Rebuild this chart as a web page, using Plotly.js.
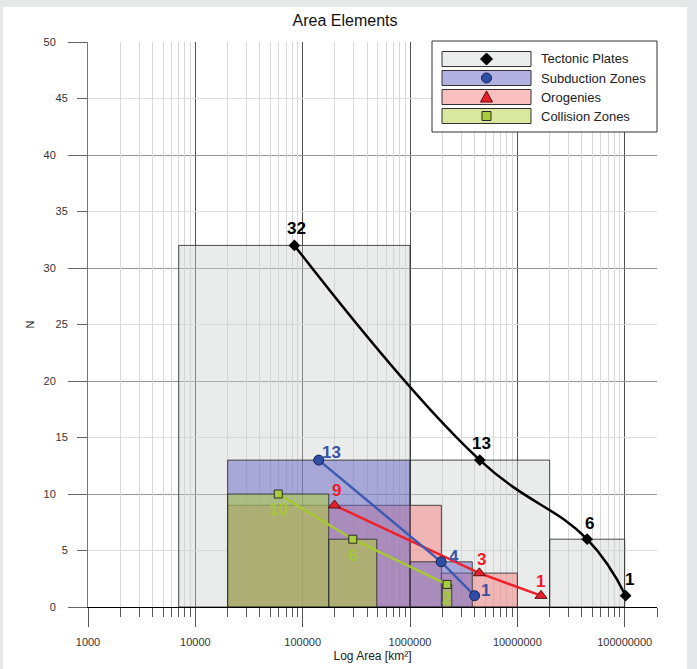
<!DOCTYPE html>
<html>
<head>
<meta charset="utf-8">
<script src="https://cdn.plot.ly/plotly-3.0.1.min.js"></script>
<style>
  html, body { margin: 0; padding: 0; background: #e6e7e9; width: 697px; height: 669px; overflow: hidden; }
  #chart { position: absolute; left: 3px; top: 7px; width: 684px; height: 662px; background: #fff; }
</style>
</head>
<body>
<div id="chart"></div>
<script>
// ---------------- DATA ----------------
var seriesNames = ['Tectonic Plates', 'Subduction Zones', 'Orogenies', 'Collision Zones'];

// Tectonic Plates
var tectonicBarLo = [7000, 1000000, 20000000];
var tectonicBarHi = [1000000, 20000000, 100000000];
var tectonicBarN  = [32, 13, 6];
var tectonicPtX   = [83700, 4470000, 44700000, 102000000];
var tectonicPtN   = [32, 13, 6, 1];

// Subduction Zones
var subductionBarLo = [20000, 1000000];
var subductionBarHi = [1000000, 3800000];
var subductionBarN  = [13, 4];
var subductionPtX   = [141000, 1950000, 4000000];
var subductionPtN   = [13, 4, 1];

// Orogenies
var orogenyBarLo = [20000, 1960000];
var orogenyBarHi = [1960000, 10000000];
var orogenyBarN  = [9, 3];
var orogenyPtX   = [198000, 4430000, 16600000];
var orogenyPtN   = [9, 3, 1];

// Collision Zones
var collisionBarLo = [20000, 175000, 2000000];
var collisionBarHi = [175000, 490000, 2450000];
var collisionBarN  = [10, 6, 2];
var collisionPtX   = [59200, 293000, 2210000];
var collisionPtN   = [10, 6, 2];

// Axis ticks
var xTickVals  = [1000, 10000, 100000, 1000000, 10000000, 100000000];
var xTickText  = ['1000', '10000', '100000', '1000000', '10000000', '100000000'];
var yMajorVals = [0, 10, 20, 30, 40, 50];
var yMajorText = ['0', '10', '20', '30', '40', '50'];
var yMinorVals = [5, 15, 25, 35, 45];
var yMinorText = ['5', '15', '25', '35', '45'];

// ---------------- BUILD ----------------
var FONT = 'Liberation Sans, Arial, sans-serif';

function barPolys(lo, hi, n) {
  var xs = [], ys = [];
  for (var i = 0; i < lo.length; i++) {
    xs.push(lo[i], lo[i], hi[i], hi[i], lo[i], null);
    ys.push(0, n[i], n[i], 0, 0, null);
  }
  return {x: xs, y: ys};
}

var edge = {color: 'rgba(45,45,45,0.85)', width: 1};
var fills = {
  tect: 'rgba(205,210,210,0.42)',
  sub:  'rgba(101,99,195,0.5)',
  oro:  'rgba(245,127,127,0.5)',
  col:  'rgba(175,210,45,0.5)'
};

function barTrace(lo, hi, n, fc) {
  var p = barPolys(lo, hi, n);
  return {type: 'scatter', mode: 'lines', x: p.x, y: p.y, fill: 'toself', fillcolor: fc,
          line: edge, hoverinfo: 'skip', showlegend: false};
}

var traces = [
  barTrace(tectonicBarLo, tectonicBarHi, tectonicBarN, fills.tect),
  barTrace(orogenyBarLo, orogenyBarHi, orogenyBarN, fills.oro),
  barTrace(subductionBarLo, subductionBarHi, subductionBarN, fills.sub),
  barTrace(collisionBarLo, collisionBarHi, collisionBarN, fills.col),
  {type: 'scatter', mode: 'lines+markers', x: tectonicPtX, y: tectonicPtN,
   line: {color: '#000', width: 2.5, shape: 'spline', smoothing: 1.2},
   marker: {symbol: 'diamond', size: 9, color: '#000'}, showlegend: false, hoverinfo: 'skip'},
  {type: 'scatter', mode: 'lines+markers', x: orogenyPtX, y: orogenyPtN,
   line: {color: '#f0202a', width: 2.5},
   marker: {symbol: 'triangle-up', size: 10.5, color: '#e8202a', line: {color: '#5a0a0a', width: 1}},
   showlegend: false, hoverinfo: 'skip'},
  {type: 'scatter', mode: 'lines+markers', x: subductionPtX, y: subductionPtN,
   line: {color: '#3d5bb0', width: 2.5},
   marker: {symbol: 'circle', size: 10, color: '#2e4ea6', line: {color: '#142050', width: 1}},
   showlegend: false, hoverinfo: 'skip'},
  {type: 'scatter', mode: 'lines+markers', x: collisionPtX, y: collisionPtN,
   line: {color: '#a6c832', width: 2.5},
   marker: {symbol: 'square', size: 8, color: '#a8cc3c', line: {color: '#2a2a2a', width: 1}},
   showlegend: false, hoverinfo: 'skip'},
  // dummy trace so the overlay (minor) axes are drawn
  {type: 'scatter', mode: 'markers', x: [10000], y: [0], xaxis: 'x2', yaxis: 'y2',
   marker: {opacity: 0}, showlegend: false, hoverinfo: 'skip'}
];

// minor x tick positions
var xMinor = [];
for (var d = 3; d <= 7; d++) {
  for (var m = 2; m <= 9; m++) xMinor.push(m * Math.pow(10, d));
}
xMinor.push(2e8);

// data labels
var annotations = [];
function addLabels(xs, ns, color, dx, dy) {
  for (var i = 0; i < xs.length; i++) {
    annotations.push({x: Math.log10(xs[i]), y: ns[i], xref: 'x', yref: 'y', text: String(ns[i]),
      showarrow: false, xshift: dx[i], yshift: dy[i],
      font: {family: FONT, size: 17, color: color, weight: 'bold'}});
  }
}
addLabels(tectonicPtX, tectonicPtN, '#000', [2, 2, 2, 4], [17, 17, 16, 16]);
addLabels(subductionPtX, subductionPtN, '#3c50a4', [13, 13, 11], [8, 5, 5]);
addLabels(orogenyPtX, orogenyPtN, '#ec1c28', [2, 2, 0], [15, 14, 14]);
addLabels(collisionPtX, collisionPtN, '#a4c83a', [0, 0, 0], [-15, -16, -14]);

// legend (manual), positions in plot-area fractions
function fx(px) { return (px - 88) / 569; }
function fy(py) { return (607 - py) / 565; }
var shapes = [];
shapes.push({type: 'rect', xref: 'paper', yref: 'paper', x0: fx(432), x1: fx(657), y0: fy(41), y1: fy(132),
  fillcolor: '#fff', line: {color: '#333', width: 1}, layer: 'above'});
var swatchFill = ['rgb(235,237,237)', 'rgb(178,177,225)', 'rgb(250,191,191)', 'rgb(216,232,158)'];
var rowY = [59, 78, 97, 116];
var markerPaths = [
  {type: 'path', path: 'M0,6L6,0L0,-6L-6,0Z', fill: '#000', line: '#000'},
  {type: 'circle', fill: '#2e4ea6', line: '#142050'},
  {type: 'path', path: 'M-6,-5L6,-5L0,6Z', fill: '#e8202a', line: '#5a0a0a'},
  {type: 'path', path: 'M-4.5,-4.5L4.5,-4.5L4.5,4.5L-4.5,4.5Z', fill: '#a8cc3c', line: '#2a2a2a'}
];
for (var r = 0; r < 4; r++) {
  shapes.push({type: 'rect', xref: 'paper', yref: 'paper', x0: fx(442), x1: fx(531),
    y0: fy(rowY[r] + 7.5), y1: fy(rowY[r] - 7.5), fillcolor: swatchFill[r],
    line: {color: '#333', width: 1}, layer: 'above'});
  var mp = markerPaths[r];
  var s = {type: mp.type, xref: 'paper', yref: 'paper', xsizemode: 'pixel', ysizemode: 'pixel',
    xanchor: fx(486.5), yanchor: fy(rowY[r]), fillcolor: mp.fill, line: {color: mp.line, width: 1}, layer: 'above'};
  if (mp.type === 'circle') { s.x0 = -5; s.x1 = 5; s.y0 = -5; s.y1 = 5; } else { s.path = mp.path; }
  shapes.push(s);
  annotations.push({xref: 'paper', yref: 'paper', x: fx(539), y: fy(rowY[r]), xanchor: 'left', yanchor: 'middle',
    text: seriesNames[r], showarrow: false, font: {family: FONT, size: 13, color: '#222'}});
}

var tickFont = {family: FONT, size: 11, color: '#333'};
var xRange = [3, Math.log10(2e8)];

var layout = {
  width: 684, height: 662,
  margin: {l: 85, r: 30, t: 35, b: 62},
  paper_bgcolor: '#fff', plot_bgcolor: '#fff',
  font: {family: FONT, color: '#222'},
  hovermode: false,
  showlegend: false,
  title: {text: 'Area Elements', font: {family: FONT, size: 16, color: '#111'},
          x: 0.5, xref: 'container', y: 0.98, yref: 'container', yanchor: 'middle'},
  xaxis: {type: 'log', range: xRange, tickmode: 'array', tickvals: xTickVals, ticktext: xTickText,
          ticks: 'outside', ticklen: 19, tickwidth: 1, tickcolor: '#555',
          showgrid: true, gridcolor: '#505050', gridwidth: 1, zeroline: false,
          showline: true, linecolor: '#000', linewidth: 1,
          tickfont: tickFont, ticklabelstandoff: 6,
          title: {text: 'Log Area [km²]', font: {family: FONT, size: 12, color: '#222'}, standoff: 4}},
  xaxis2: {type: 'log', range: xRange, overlaying: 'x', side: 'bottom', anchor: 'y',
           tickmode: 'array', tickvals: xMinor, showticklabels: false,
           ticks: 'outside', ticklen: 9, tickwidth: 1, tickcolor: '#555',
           showgrid: true, gridcolor: '#d8d8d8', gridwidth: 1, zeroline: false, showline: false},
  yaxis: {range: [0, 50], tickmode: 'array', tickvals: yMajorVals, ticktext: yMajorText,
          ticks: 'outside', ticklen: 19, tickwidth: 1, tickcolor: '#666',
          showgrid: true, gridcolor: '#959595', gridwidth: 1, zeroline: false,
          showline: true, linecolor: '#777', linewidth: 1,
          tickfont: tickFont, ticklabelstandoff: 10,
          title: {text: 'N', font: {family: FONT, size: 11, color: '#222'}, standoff: 6}},
  yaxis2: {range: [0, 50], overlaying: 'y', side: 'left', anchor: 'x',
           tickmode: 'array', tickvals: yMinorVals, ticktext: yMinorText,
           ticks: 'outside', ticklen: 10, tickwidth: 1, tickcolor: '#666',
           showgrid: true, gridcolor: '#dedede', gridwidth: 1, zeroline: false, showline: false,
           tickfont: tickFont, ticklabelstandoff: 7},
  shapes: shapes,
  annotations: annotations
};

Plotly.newPlot('chart', traces, layout, {staticPlot: true, displayModeBar: false});
</script>
</body>
</html>
